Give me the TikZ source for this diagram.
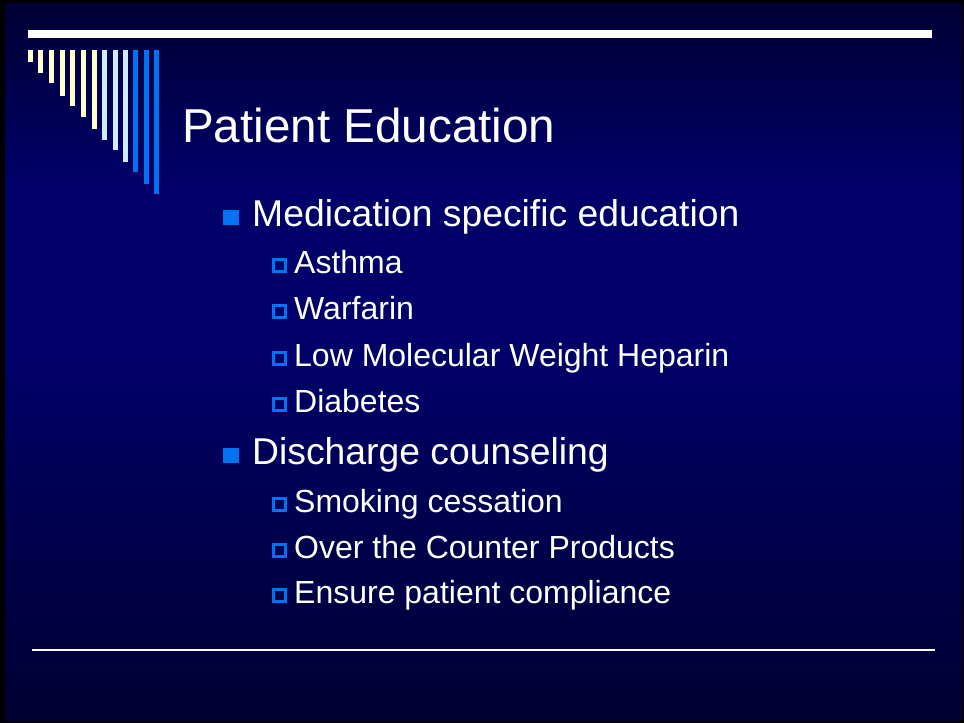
\documentclass[tikz,border=0pt]{standalone}
\usepackage{fontspec}
\setmainfont{Liberation Sans}
\definecolor{navytop}{RGB}{0,0,52}
\definecolor{navymid}{RGB}{0,0,104}
\definecolor{navybot}{RGB}{0,0,50}
\definecolor{paleyellow}{RGB}{255,255,204}
\definecolor{paleblue}{RGB}{204,236,255}
\definecolor{brightblue}{RGB}{0,115,240}
\begin{document}
\begin{tikzpicture}[x=1pt,y=-1pt,
  titletext/.style={anchor=base west,inner sep=0pt,text=white,font=\fontsize{47.6}{56}\selectfont},
  lvlone/.style={anchor=base west,inner sep=0pt,text=white,font=\fontsize{37.3}{44}\selectfont},
  lvltwo/.style={anchor=base west,inner sep=0pt,text=white,font=\fontsize{32}{38}\selectfont},
  bulletone/.style={fill=brightblue,draw=none},
  bullettwo/.style={draw=brightblue,line width=3pt},
  ybar/.style={fill=paleyellow,draw=none},
  lbar/.style={fill=paleblue,draw=none},
  bbar/.style={fill=brightblue,draw=none}]
\useasboundingbox (0,0) rectangle (964,723);
\fill[black] (0,0) rectangle (964,723);
\shade[top color=navytop,bottom color=navymid,middle color=navymid] (5,3) rectangle (962,360);
\shade[top color=navymid,bottom color=navybot] (5,360) rectangle (962,720);
% top rule
\fill[white] (28,30) rectangle (932,37.5);
% bars
\fill[ybar] (28,50) rectangle (33,62);
\fill[ybar] (38,50) rectangle (43,73);
\fill[ybar] (49,50) rectangle (54,83);
\fill[ybar] (60,50) rectangle (65,96);
\fill[ybar] (70,50) rectangle (75,106);
\fill[ybar] (81,50) rectangle (86,117);
\fill[ybar] (92,50) rectangle (97,129);
\fill[lbar] (102,50) rectangle (107,140);
\fill[lbar] (113,50) rectangle (118,150);
\fill[lbar] (123,50) rectangle (128,162);
\fill[bbar] (133,50) rectangle (138,172);
\fill[bbar] (144,50) rectangle (149,184);
\fill[bbar] (154,50) rectangle (159,194);
% bottom rule
\fill[white] (32,649) rectangle (935,651);
% title
\node[titletext] (title) at (182,142) {Patient Education};
% level one
\fill[bulletone] (223,210) rectangle (239,225);
\node[lvlone] (med) at (252,226) {Medication specific education};
\fill[bulletone] (223,448) rectangle (239,463);
\node[lvlone] (dis) at (252,464) {Discharge counseling};
% level two
\foreach \y/\n/\t in {273/asth/Asthma,319/warf/Warfarin,366/lmwh/Low Molecular Weight Heparin,412/diab/Diabetes,512/smok/Smoking cessation,558/otc/Over the Counter Products,603/comp/Ensure patient compliance}{
  \draw[bullettwo] (273.5,\y-13.5) rectangle (285.5,\y-1.5);
  \node[lvltwo] (\n) at (294,\y) {\t};
}
\end{tikzpicture}
\end{document}
